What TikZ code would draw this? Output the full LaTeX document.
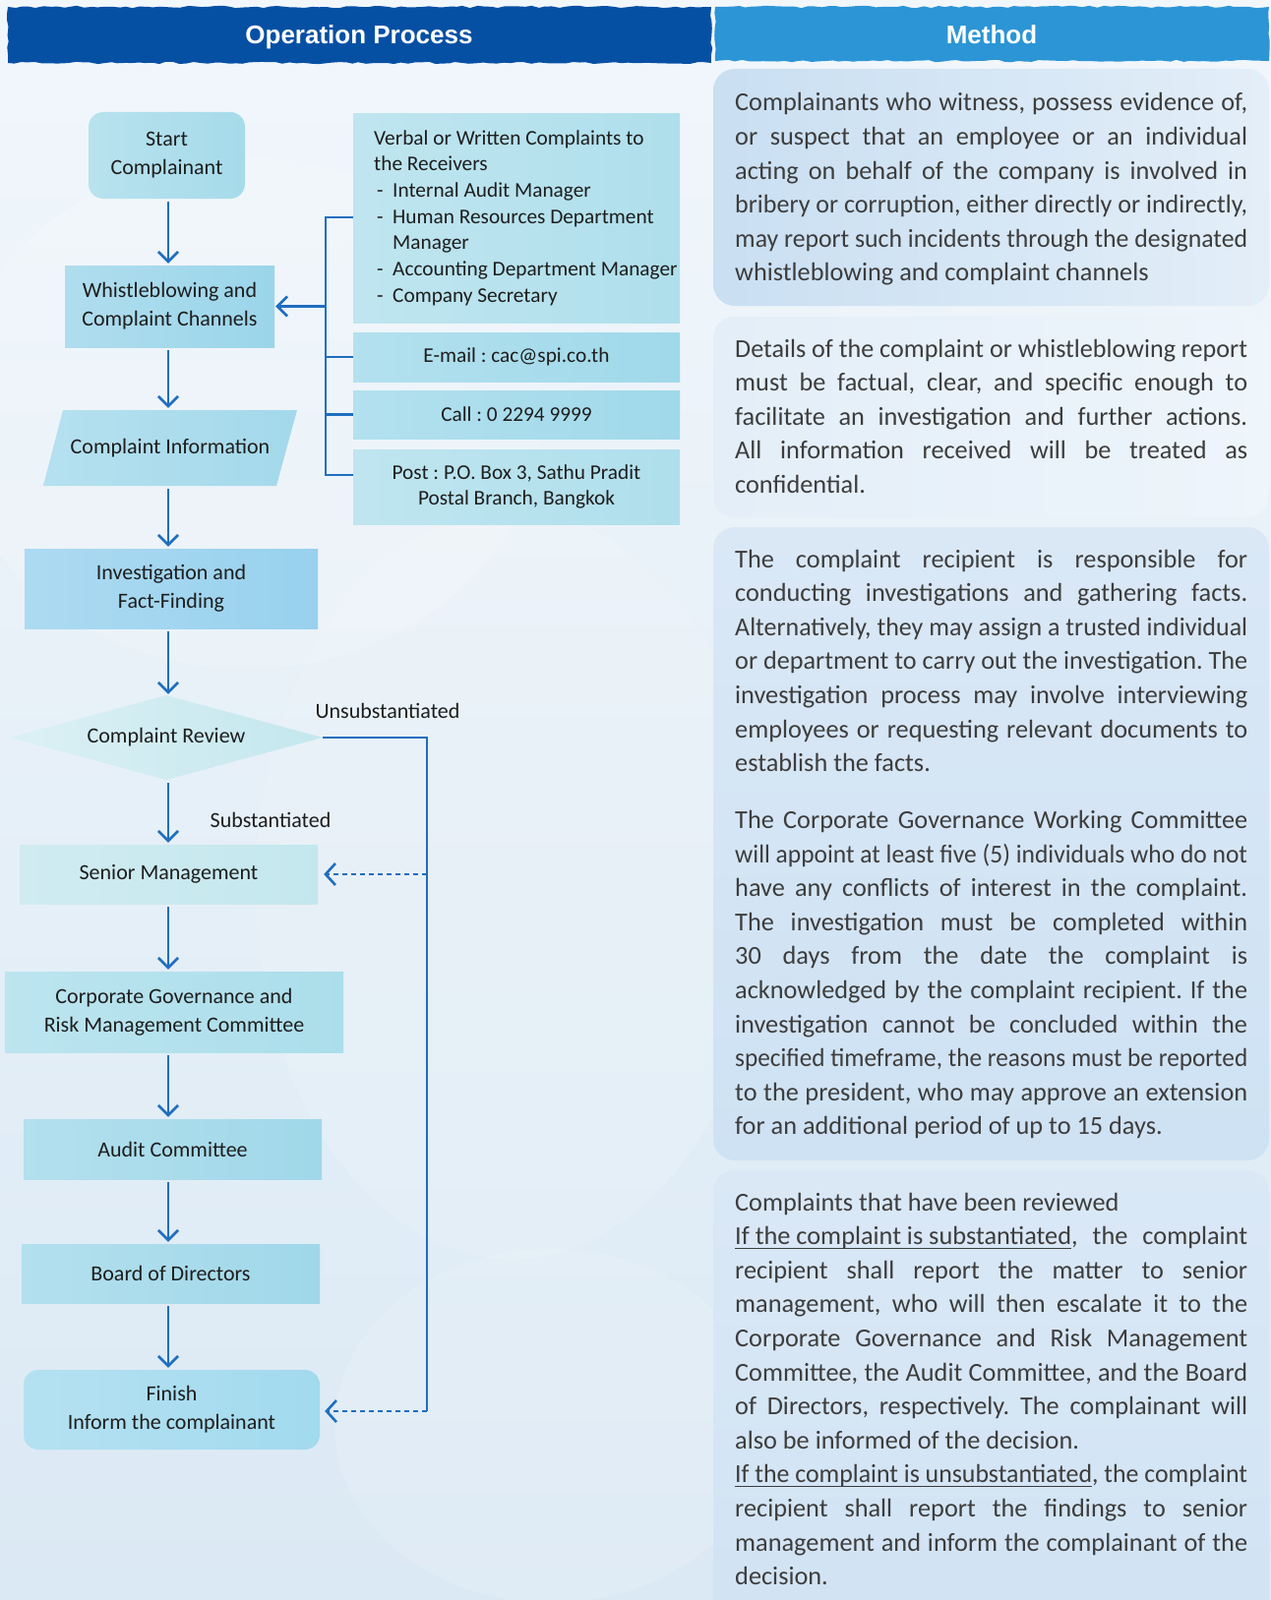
\documentclass[tikz,border=0pt]{standalone}
\usepackage{fontspec}
\setmainfont{Carlito}
\newfontfamily\headfont{Liberation Sans}
\usepackage{graphicx}
\usetikzlibrary{arrows.meta,shapes.geometric,decorations.pathmorphing}
\frenchspacing

\definecolor{hdark}{HTML}{0650A4}
\definecolor{hlight}{HTML}{2C95D6}
\definecolor{arrowc}{HTML}{1F6EBF}
\definecolor{bgc}{HTML}{E8F1F9}
\definecolor{bgd}{HTML}{DBE9F4}
\definecolor{txtr}{HTML}{3D3D3D}
\definecolor{txtl}{HTML}{1E1E1E}
\definecolor{cStart}{HTML}{A6DBEA}
\definecolor{cWb}{HTML}{9BD5EA}
\definecolor{cCi}{HTML}{A3D9EB}
\definecolor{cInv}{HTML}{98D1EE}
\definecolor{cPale}{HTML}{C4E7EE}
\definecolor{cCg}{HTML}{ABDEEB}
\definecolor{cAc}{HTML}{A0D8E9}
\definecolor{cFin}{HTML}{A2DAEE}
\definecolor{cChA}{HTML}{AFDFEC}
\definecolor{cCh}{HTML}{A0D9EA}
\definecolor{pA}{HTML}{C9DFF2}
\definecolor{pB}{HTML}{E3EEF8}
\definecolor{pC}{HTML}{DAE8F6}
\definecolor{pD}{HTML}{EEF5FB}

\newlength\W \setlength\W{521pt}
\newcommand\jline[1]{\setbox2=\hbox{#1}\ifdim\wd2>\W\hbox{\resizebox{\W}{\height}{\box2}}\else\hbox to \W{#1}\fi}
\newcommand\lline[1]{\hbox{#1}}
\newcommand\ulx[1]{\setbox4=\hbox{#1}\rlap{\rule[-4.5pt]{\wd4}{1pt}}\box4}
\newcommand\dsh{\makebox[19pt][l]{\hspace{3pt}-}}

\begin{document}
\begin{tikzpicture}[x=1pt,y=-1pt,
  flowtxt/.style={font=\fontsize{22}{29}\selectfont, text=txtl, align=center, inner sep=0pt},
  fbox/.style={flowtxt, rectangle, left color=#1!80!white, right color=#1},
  rbox/.style={fbox=#1, rounded corners=15pt},
  chtxt/.style={font=\fontsize{21.3}{26.7}\selectfont, text=txtl, inner sep=0pt},
  rtext/.style={font=\fontsize{26.3}{34.6}\selectfont, text=txtr, inner sep=0pt, anchor=base west},
  lbl/.style={font=\fontsize{22}{25}\selectfont, text=txtl, inner sep=0pt},
  headtxt/.style={font=\headfont\bfseries\fontsize{26}{30}\selectfont, text=white, inner sep=0pt, anchor=base},
  arr/.style={draw=arrowc, line width=2.8pt, -{Straight Barb[length=10pt,width=20pt,line width=2.6pt]}},
  conn/.style={draw=arrowc, line width=2.2pt},
  dsharr/.style={draw=arrowc, line width=1.8pt, dash pattern=on 5pt off 4pt, -{Straight Barb[length=10pt,width=22pt,line width=2.6pt]}},
  brush/.style={decorate, decoration={random steps, segment length=7pt, amplitude=1.2pt}}
]
\useasboundingbox (0,0) rectangle (1292,1627);
% background
\shade[top color=bgc!60!white, bottom color=bgd] (0,0) rectangle (1292,1627);
\fill[white, opacity=0.15] (250,420) ellipse (300 and 260);
\fill[white, opacity=0.12] (520,900) ellipse (260 and 380);
\fill[white, opacity=0.12] (560,1450) ellipse (220 and 180);

% headers
\fill[hdark, brush] (8,7) rectangle (723,64);
\fill[hlight, brush] (727,7) rectangle (1290,62);
\node[headtxt] (h1) at (365,44.5) {Operation Process};
\node[headtxt] (h2) at (1008,44.5) {Method};

% right panels
\shade[rounded corners=22pt, left color=pA, right color=pB] (725,70) rectangle (1290,311);
\shade[rounded corners=22pt, left color=pB, right color=pD] (725,322) rectangle (1290,526);
\shade[rounded corners=22pt, top color=pC, bottom color=pA!80!pB] (725,536) rectangle (1290,1180);
\shade[rounded corners=22pt, top color=pC, bottom color=pA!70!pB] (725,1190) rectangle (1290,1660);

\node[rtext] (p1) at (747,113) {\vtop{%
\jline{Complainants who witness, possess evidence of,}
\jline{or suspect that an employee or an individual}
\jline{acting on behalf of the company is involved in}
\jline{bribery or corruption, either directly or indirectly,}
\jline{may report such incidents through the designated}
\lline{whistleblowing and complaint channels}}};

\node[rtext] (p2) at (747,363) {\vtop{%
\jline{Details of the complaint or whistleblowing report}
\jline{must be factual, clear, and specific enough to}
\jline{facilitate an investigation and further actions.}
\jline{All information received will be treated as}
\lline{confidential.}}};

\node[rtext] (p3a) at (747,577) {\vtop{%
\jline{The complaint recipient is responsible for}
\jline{conducting investigations and gathering facts.}
\jline{Alternatively, they may assign a trusted individual}
\jline{or department to carry out the investigation. The}
\jline{investigation process may involve interviewing}
\jline{employees or requesting relevant documents to}
\lline{establish the facts.}}};

\node[rtext] (p3b) at (747,842.5) {\vtop{%
\jline{The Corporate Governance Working Committee}
\jline{will appoint at least five (5) individuals who do not}
\jline{have any conflicts of interest in the complaint.}
\jline{The investigation must be completed within}
\jline{30 days from the date the complaint is}
\jline{acknowledged by the complaint recipient. If the}
\jline{investigation cannot be concluded within the}
\jline{specified timeframe, the reasons must be reported}
\jline{to the president, who may approve an extension}
\lline{for an additional period of up to 15 days.}}};

\node[rtext] (p4) at (747,1231) {\vtop{%
\lline{Complaints that have been reviewed}
\jline{\ulx{If the complaint is substantiated}, the complaint}
\jline{recipient shall report the matter to senior}
\jline{management, who will then escalate it to the}
\jline{Corporate Governance and Risk Management}
\jline{Committee, the Audit Committee, and the Board}
\jline{of Directors, respectively. The complainant will}
\lline{also be informed of the decision.}
\jline{\ulx{If the complaint is unsubstantiated}, the complaint}
\jline{recipient shall report the findings to senior}
\jline{management and inform the complainant of the}
\lline{decision.}}};

% ---------- flowchart ----------
\node[rbox=cStart, minimum width=159pt, minimum height=88pt] (st) at (169.5,158) {Start\\Complainant};
\node[fbox=cWb, minimum width=213pt, minimum height=83pt] (wb) at (172.5,311.5) {Whistleblowing and\\Complaint Channels};
\shade[left color=cCi!80!white, right color=cCi] (64,417) -- (302,417) -- (281,494) -- (44,494) -- cycle;
\node[flowtxt, minimum width=258pt, minimum height=77pt] (ci) at (173,455.5) {\raisebox{3pt}{Complaint Information}};
\node[fbox=cInv, minimum width=298pt, minimum height=81pt] (inv) at (174,598.5) {Investigation and\\Fact-Finding};
\node[flowtxt, shape=diamond, aspect=3.7, minimum width=318pt, minimum height=86pt, left color=cPale!60!white, right color=cPale] (cr) at (169,750) {Complaint Review};
\node[fbox=cPale, minimum width=303pt, minimum height=60pt] (sm) at (171.5,889) {Senior Management};
\node[fbox=cCg, minimum width=344pt, minimum height=82pt] (cg) at (177,1029) {Corporate Governance and\\Risk Management Committee};
\node[fbox=cAc, minimum width=303pt, minimum height=61pt] (ac) at (175.5,1168.5) {Audit Committee};
\node[fbox=cAc, minimum width=303pt, minimum height=60pt] (bd) at (173.5,1295) {Board of Directors};
\node[rbox=cFin, minimum width=301pt, minimum height=81pt] (fin) at (174.5,1433.5) {Finish\\Inform the complainant};

% channel boxes
\node[fbox=cChA, minimum width=332pt, minimum height=212pt] (chA) at (525,222) {};
\node[chtxt, anchor=base west] (chAt) at (380,147) {\vtop{%
\hbox{Verbal or Written Complaints to}
\hbox{the Receivers}
\hbox{\dsh Internal Audit Manager}
\hbox{\dsh Human Resources Department}
\hbox{\hspace{19pt}Manager}
\hbox{\dsh Accounting Department Manager}
\hbox{\dsh Company Secretary}}};
\node[fbox=cCh, chtxt, minimum width=332pt, minimum height=50pt] (chB) at (525,363) {E-mail : cac@spi.co.th};
\node[fbox=cCh, chtxt, minimum width=332pt, minimum height=49pt] (chC) at (525,421.5) {Call : 0 2294 9999};
\node[fbox=cChA, chtxt, align=center, minimum width=332pt, minimum height=76pt] (chD) at (525,495) {Post : P.O. Box 3, Sathu Pradit\\Postal Branch, Bangkok};

% labels
\node[lbl] (lu) at (394,723) {Unsubstantiated};
\node[lbl] (ls) at (275,834) {Substantiated};

% connectors
\coordinate (ax) at (171,0);
\draw[arr, shorten <=3pt, shorten >=2pt] (st.south -| ax) -- (wb.north -| ax);
\draw[arr, shorten <=3pt, shorten >=2pt] (wb.south -| ax) -- (ci.north -| ax);
\draw[arr, shorten <=3pt, shorten >=2pt] (ci.south -| ax) -- (inv.north -| ax);
\draw[arr, shorten <=3pt, shorten >=1pt] (inv.south -| ax) -- (cr.north -| ax);
\draw[arr, shorten <=3pt, shorten >=2pt] (cr.south -| ax) -- (sm.north -| ax);
\draw[arr, shorten <=3pt, shorten >=2pt] (sm.south -| ax) -- (cg.north -| ax);
\draw[arr, shorten <=3pt, shorten >=2pt] (cg.south -| ax) -- (ac.north -| ax);
\draw[arr, shorten <=3pt, shorten >=2pt] (ac.south -| ax) -- (bd.north -| ax);
\draw[arr, shorten <=3pt, shorten >=2pt] (bd.south -| ax) -- (fin.north -| ax);

% bracket from channels
\coordinate (bt) at (331,221);
\coordinate (bb) at (331,483);
\draw[conn] (chA.west |- bt) -- (bt) -- (bb) -- (chD.west |- bb);
\draw[conn] (chB.west) -- (chB.west -| bt);
\draw[conn] (chC.west) -- (chC.west -| bt);
\draw[arr, shorten >=1pt] (bt |- wb.east) -- (wb.east);

% unsubstantiated path
\coordinate (rx) at (434,1435);
\draw[conn, line width=2.4pt] (cr.east) -- (cr.east -| rx) -- (rx);
\draw[dsharr, shorten >=6pt] (rx |- sm.east) -- (sm.east);
\draw[dsharr, shorten >=5pt] (rx) -- (fin.east |- rx);
\end{tikzpicture}
\end{document}
